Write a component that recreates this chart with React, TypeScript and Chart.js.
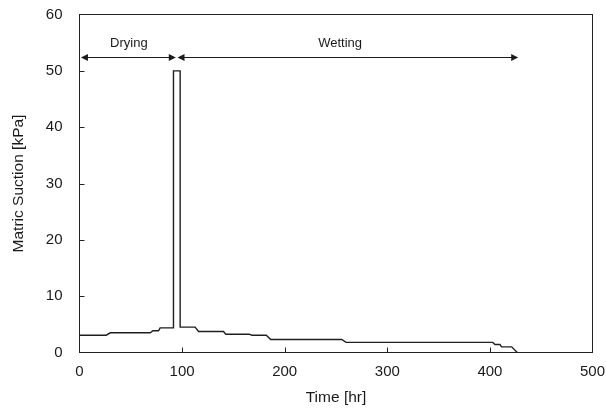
import React, { useEffect, useRef } from "react";
import { Chart, registerables } from "chart.js";

Chart.register(...registerables);

// Series: matric suction vs time (step-like record)
const timeHr: number[] = [
  0, 26, 30, 69, 71.5, 77, 78.6, 91.6, 91.6, 98.1, 98.1, 112.7, 116, 140.3, 142.6,
  165.3, 168, 182, 186.4, 255.6, 259.8, 402.7, 405, 409.8, 411.4, 421.2, 426.7,
];
const suctionKPa: number[] = [
  3.07, 3.07, 3.5, 3.5, 3.85, 3.85, 4.38, 4.38, 50, 50, 4.5, 4.5, 3.73, 3.73, 3.25,
  3.25, 3.07, 3.07, 2.31, 2.31, 1.8, 1.8, 1.42, 1.42, 1.0, 1.0, 0,
];

// Axis ranges / ticks
const xTicks: number[] = [0, 100, 200, 300, 400, 500];
const yTicks: number[] = [0, 10, 20, 30, 40, 50, 60];

// Phase annotations (data coordinates)
const phaseNames: string[] = ["Drying", "Wetting"];
const phaseStart: number[] = [1.4, 95.5];
const phaseEnd: number[] = [93.9, 427.6];
const phaseLabelX: number[] = [48.1, 254];
const arrowLevel = 52.5;
const labelLevel = 54.3;

const FONT = "'Liberation Sans', Arial, Helvetica, sans-serif";
const INK = "#1a1a1a";

const decorPlugin = {
  id: "decor",
  afterDraw(chart: any) {
    const { ctx, chartArea } = chart;
    const xs = chart.scales.x;
    const ys = chart.scales.y;
    ctx.save();
    // frame
    ctx.strokeStyle = "#222";
    ctx.lineWidth = 1;
    ctx.strokeRect(
      chartArea.left,
      chartArea.top,
      chartArea.right - chartArea.left,
      chartArea.bottom - chartArea.top
    );
    // inward ticks (interior ones)
    ctx.beginPath();
    xTicks.slice(1, -1).forEach((v) => {
      const px = Math.round(xs.getPixelForValue(v)) + 0.5;
      ctx.moveTo(px, chartArea.bottom);
      ctx.lineTo(px, chartArea.bottom - 5);
    });
    yTicks.slice(1, -1).forEach((v) => {
      const py = Math.round(ys.getPixelForValue(v)) + 0.5;
      ctx.moveTo(chartArea.left, py);
      ctx.lineTo(chartArea.left + 5, py);
    });
    ctx.stroke();

    // arrows
    const ay = Math.round(ys.getPixelForValue(arrowLevel)) + 0.5;
    const head = (tipX: number, dir: number) => {
      ctx.beginPath();
      ctx.moveTo(tipX, ay);
      ctx.lineTo(tipX - dir * 7, ay - 3.5);
      ctx.lineTo(tipX - dir * 7, ay + 3.5);
      ctx.closePath();
      ctx.fill();
    };
    ctx.fillStyle = INK;
    ctx.strokeStyle = INK;
    ctx.lineWidth = 1.2;
    phaseNames.forEach((name, i) => {
      const x0 = xs.getPixelForValue(phaseStart[i]);
      const x1 = xs.getPixelForValue(phaseEnd[i]);
      ctx.beginPath();
      ctx.moveTo(x0 + 3, ay);
      ctx.lineTo(x1 - 3, ay);
      ctx.stroke();
      head(x0, -1);
      head(x1, 1);
      ctx.font = `13px ${FONT}`;
      ctx.textAlign = "center";
      ctx.textBaseline = "alphabetic";
      ctx.fillText(name, xs.getPixelForValue(phaseLabelX[i]), ys.getPixelForValue(labelLevel));
    });
    ctx.restore();
  },
};

const zeroPad = (s: any) => {
  s.paddingTop = 0;
  s.paddingBottom = 0;
  s.paddingLeft = 0;
  s.paddingRight = 0;
};

export default function App() {
  const ref = useRef<HTMLCanvasElement | null>(null);

  useEffect(() => {
    if (!ref.current) return;
    const points = timeHr.map((t, i) => ({ x: t, y: suctionKPa[i] }));
    const chart = new Chart(ref.current, {
      type: "scatter",
      data: {
        datasets: [
          {
            label: "Matric Suction",
            data: points,
            showLine: true,
            borderColor: "#1f1f1f",
            borderWidth: 1.4,
            pointRadius: 0,
            fill: false,
            tension: 0,
            clip: false as any,
          },
        ],
      },
      options: {
        animation: false,
        responsive: false,
        maintainAspectRatio: false,
        layout: { padding: { top: 14.5, right: 13.5, left: 0, bottom: 0 } },
        plugins: {
          legend: { display: false },
          tooltip: { enabled: false },
        },
        scales: {
          x: {
            type: "linear",
            min: 0,
            max: 500,
            afterFit: (s: any) => {
              s.height = 59.5;
              zeroPad(s);
            },
            afterBuildTicks: (s: any) => {
              s.ticks = xTicks.map((v) => ({ value: v }));
            },
            ticks: {
              padding: 10,
              color: INK,
              font: { family: FONT, size: 15 },
              maxRotation: 0,
            },
            grid: { display: false, drawTicks: false },
            border: { display: false },
            title: {
              display: true,
              text: "Time [hr]",
              color: INK,
              font: { family: FONT, size: 15.5 },
              padding: { top: 0, bottom: 4.7 },
            },
          },
          y: {
            type: "linear",
            min: 0,
            max: 60,
            afterFit: (s: any) => {
              s.width = 79.5;
              zeroPad(s);
            },
            afterBuildTicks: (s: any) => {
              s.ticks = yTicks.map((v) => ({ value: v }));
            },
            ticks: {
              padding: 17,
              color: INK,
              font: { family: FONT, size: 15 },
            },
            grid: { display: false, drawTicks: false },
            border: { display: false },
            title: {
              display: true,
              text: "Matric Suction [kPa]",
              color: INK,
              font: { family: FONT, size: 15.5 },
              padding: { top: 9.5, bottom: 0 },
            },
          },
        },
      },
      plugins: [decorPlugin],
    } as any);
    return () => chart.destroy();
  }, []);

  return (
    <div style={{ position: "fixed", left: 0, top: 0, width: 606, height: 412, background: "#fff" }}>
      <canvas ref={ref} width={606} height={412} style={{ width: 606, height: 412 }} />
    </div>
  );
}
